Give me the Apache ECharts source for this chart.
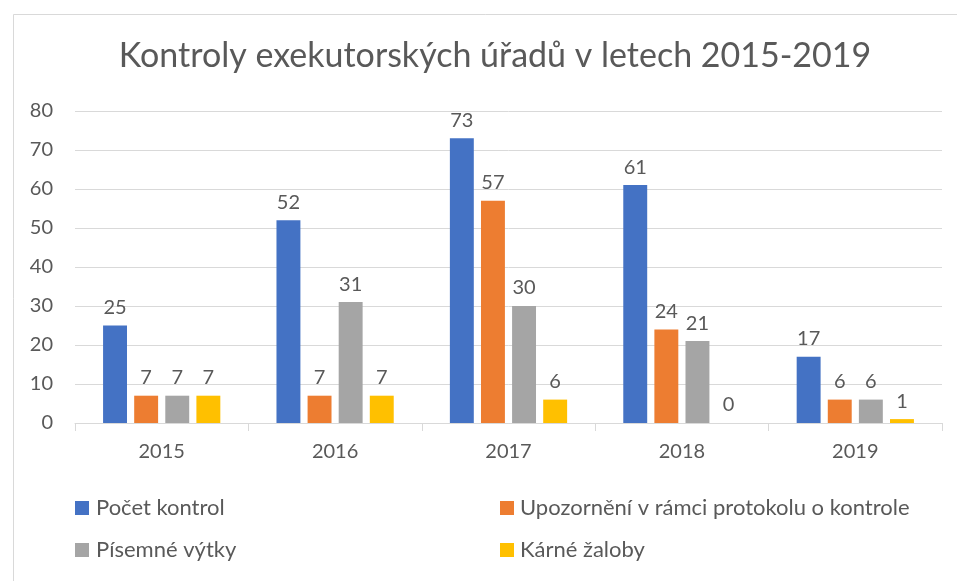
<!DOCTYPE html>
<html><head><meta charset="utf-8">
<script src="https://cdn.jsdelivr.net/npm/echarts@6/dist/echarts.min.js"></script>
<style>html,body{margin:0;padding:0;background:#fff}#c{width:957px;height:581px}</style>
</head><body><div id="c"></div>
<script>
const titleText = 'Kontroly exekutorských úřadů v letech 2015-2019';
const categories = ['2015', '2016', '2017', '2018', '2019'];
const seriesNames = ['Počet kontrol', 'Upozornění v rámci protokolu o kontrole', 'Písemné výtky', 'Kárné žaloby'];
const pocetKontrol = [25, 52, 73, 61, 17];
const upozorneni = [7, 7, 57, 24, 6];
const pisemneVytky = [7, 31, 30, 21, 6];
const karneZaloby = [7, 7, 6, 0, 1];
const yTicks = [0, 80, 10];

const colors = ['#4472C4', '#ED7D31', '#A5A5A5', '#FFC000'];
const font = 'Lato, "Open Sans", sans-serif';
const txt = '#595959';
const values = [pocetKontrol, upozorneni, pisemneVytky, karneZaloby];

const chart = echarts.init(document.getElementById('c'));
chart.setOption({
  backgroundColor: '#fff',
  animation: false,
  color: colors,
  textStyle: { fontFamily: font, color: txt },
  graphic: [{ type: 'rect', left: 11, top: 12, shape: { width: 1000, height: 1000 },
    style: { fill: 'none', stroke: '#d9d9d9', lineWidth: 1 }, silent: true }],
  title: { text: titleText, left: 490, textAlign: 'center', top: 34,
    textStyle: { fontFamily: font, fontSize: 34, fontWeight: 'normal', color: txt } },
  grid: { left: 75, right: 15, top: 111, bottom: 158 },
  legend: [
    { data: [seriesNames[0], seriesNames[2]], orient: 'vertical', left: 75, top: 497, padding: 0, itemWidth: 14, itemHeight: 14, itemGap: 20,
      icon: 'rect', textStyle: { fontFamily: font, fontSize: 22, color: txt, padding: [0, 0, 0, 2] } },
    { data: [seriesNames[1], seriesNames[3]], orient: 'vertical', left: 500, top: 497, padding: 0, itemWidth: 14, itemHeight: 14, itemGap: 20,
      icon: 'rect', textStyle: { fontFamily: font, fontSize: 22, color: txt, padding: [0, 0, 0, 1] } }
  ],
  xAxis: { type: 'category', data: categories,
    axisLine: { lineStyle: { color: '#d9d9d9' } },
    axisTick: { show: true, length: 8, lineStyle: { color: '#d9d9d9' } },
    axisLabel: { fontFamily: font, fontSize: 20, color: txt, margin: 19 } },
  yAxis: { type: 'value', min: yTicks[0], max: yTicks[1], interval: yTicks[2],
    axisLine: { show: false }, axisTick: { show: false },
    splitLine: { lineStyle: { color: '#d9d9d9' } },
    axisLabel: { fontFamily: font, fontSize: 20, color: txt, margin: 22 } },
  series: seriesNames.map((n, i) => ({
    name: n, type: 'bar', data: values[i], barWidth: '13.8%', barGap: '30%',
    label: { show: true, position: 'top', distance: 8, fontFamily: font, fontSize: 20, color: txt }
  }))
});
</script></body></html>
